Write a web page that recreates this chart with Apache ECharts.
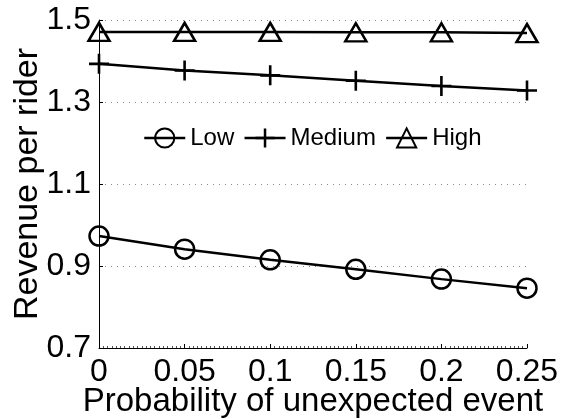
<!DOCTYPE html>
<html>
<head>
<meta charset="utf-8">
<script src="https://cdn.jsdelivr.net/npm/echarts@6/dist/echarts.min.js"></script>
<style>
  html, body { margin: 0; padding: 0; background: #fff; }
  #chart { width: 561px; height: 419px; }
</style>
</head>
<body>
<div id="chart"></div>
<script>
  const xValues = [0, 0.05, 0.1, 0.15, 0.2, 0.25]
  const lowData = [0.973, 0.941, 0.915, 0.892, 0.868, 0.846]
  const mediumData = [1.393, 1.377, 1.365, 1.352, 1.339, 1.328]
  const highData = [1.471, 1.471, 1.471, 1.470, 1.470, 1.468]
  const seriesNames = ['Low', 'Medium', 'High']

  const font = 'Liberation Sans, Arial, sans-serif'
  const plusPath = 'path://M-0.13,-1L0.13,-1L0.13,-0.13L1,-0.13L1,0.13L0.13,0.13L0.13,1L-0.13,1L-0.13,0.13L-1,0.13L-1,-0.13L-0.13,-0.13Z'

  const pairs = (ys) => xValues.map((x, i) => [x, ys[i]])

  const lineSeries = (name, ys, symbol, size, fill, border) => ({
    name: name,
    type: 'line',
    data: pairs(ys),
    symbol: symbol,
    symbolSize: size,
    showAllSymbol: true,
    lineStyle: { color: '#000', width: 2.5 },
    itemStyle: { color: fill, borderColor: '#000', borderWidth: border },
    emphasis: { disabled: true }
  })

  const chart = echarts.init(document.getElementById('chart'))
  chart.setOption({
    animation: false,
    backgroundColor: '#fff',
    textStyle: { fontFamily: font },
    grid: { left: 99, right: 34, top: 20, bottom: 71, containLabel: false, outerBoundsMode: 'none' },
    legend: {
      data: seriesNames,
      left: 138,
      top: 121,
      itemWidth: 41,
      itemHeight: 24,
      itemGap: 9,
      lineStyle: { width: 2.5 },
      textStyle: { fontSize: 24, color: '#000', fontFamily: font }
    },
    xAxis: {
      type: 'value',
      min: 0,
      max: 0.25,
      interval: 0.05,
      name: 'Probability of unexpected event',
      nameLocation: 'middle',
      nameGap: 37,
      nameMoveOverlap: false,
      nameTextStyle: { fontSize: 33, color: '#000', fontFamily: font },
      axisLine: { lineStyle: { color: '#000', width: 1 } },
      axisTick: { inside: true, length: 4, lineStyle: { color: '#000' } },
      minorTick: { show: true, splitNumber: 20, length: 2, lineStyle: { color: '#555' } },
      axisLabel: { fontSize: 32, color: '#000', margin: 8, fontFamily: font },
      splitLine: { show: false }
    },
    yAxis: {
      type: 'value',
      min: 0.7,
      max: 1.5,
      interval: 0.2,
      name: 'Revenue per rider',
      nameLocation: 'middle',
      nameGap: 54,
      nameMoveOverlap: false,
      nameTextStyle: { fontSize: 34, color: '#000', fontFamily: font },
      axisLine: { show: true, lineStyle: { color: '#000', width: 1 } },
      axisTick: { show: true, inside: true, length: 4, lineStyle: { color: '#000' } },
      axisLabel: { fontSize: 32, color: '#000', margin: 8, fontFamily: font },
      splitLine: { show: true, lineStyle: { color: '#888', width: 1, type: [1, 5] } }
    },
    series: [
      lineSeries('Low', lowData, 'circle', 19, 'transparent', 2.5),
      lineSeries('Medium', mediumData, plusPath, 20, '#000', 0),
      lineSeries('High', highData, 'triangle', [21, 18], 'transparent', 2.5)
    ]
  })
</script>
</body>
</html>
